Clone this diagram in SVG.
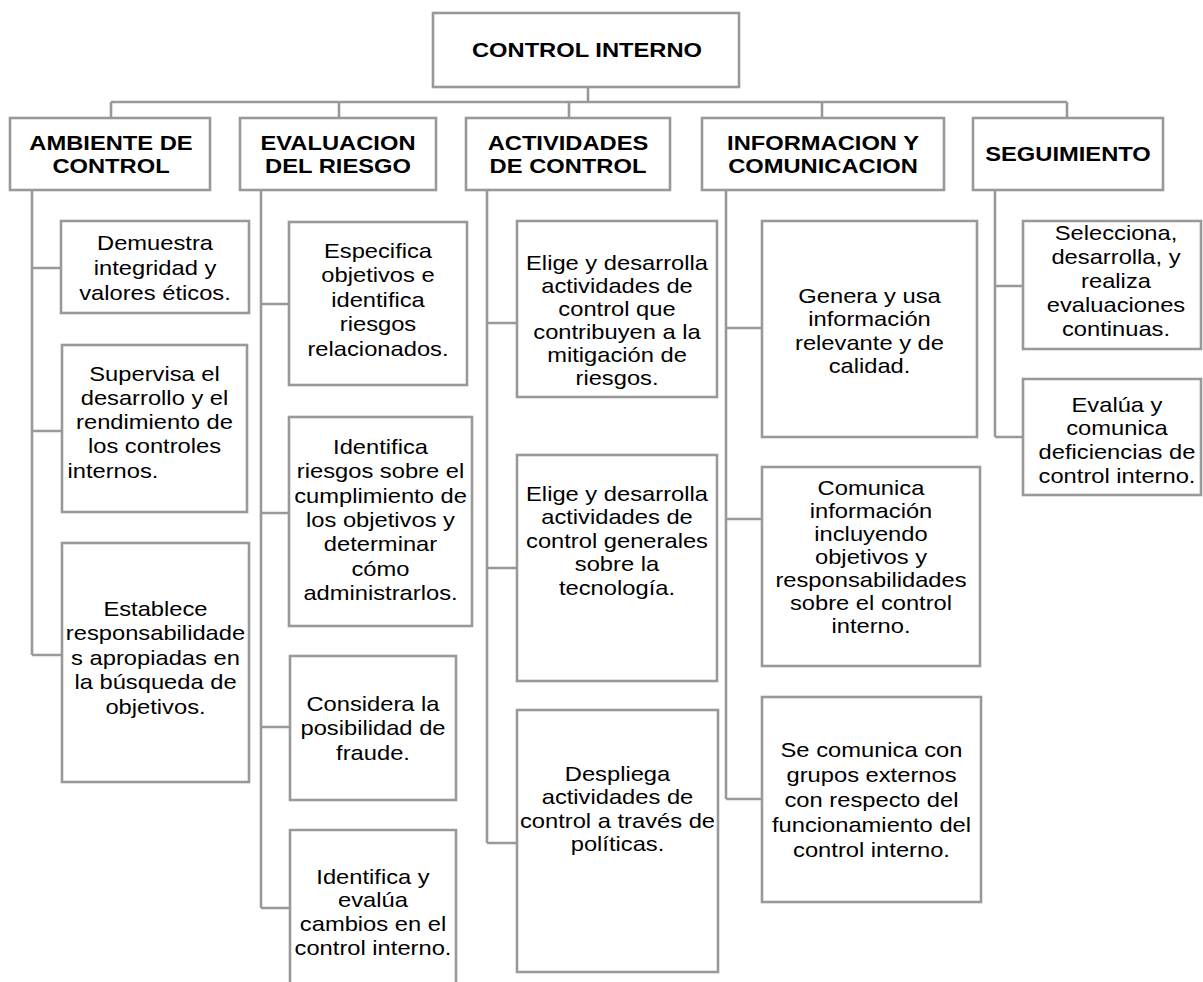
<svg xmlns="http://www.w3.org/2000/svg" width="1203" height="982" viewBox="0 0 1203 982">
<style>
.b{fill:#fff;stroke:#999;stroke-width:2.6}
.c{fill:none;stroke:#999;stroke-width:2.6}
text{font-family:"Liberation Sans",Arial,sans-serif;font-size:21px;fill:#000;text-anchor:middle}
.h{font-weight:bold}
</style>
<rect width="1203" height="982" fill="#fff"/>
<g id="connectors" class="c">
<path d="M588,87V102M111,102H1067M111,102V118M339,102V118M569,102V118M822,102V118M1067,102V118"/>
<path d="M32,190V655M32,268H61M32,431H62M32,655H62"/>
<path d="M261,190V908M261,304H289M261,513H289M261,727H290M261,908H290"/>
<path d="M487,190V843M487,323H517M487,568H517M487,843H517"/>
<path d="M726,190V799M726,328H762M726,519H762M726,799H762"/>
<path d="M995,190V437M995,286H1023M995,437H1023"/>
</g>
<g id="n0"><rect class="b" x="433" y="13" width="306" height="74"/><text class="h" transform="translate(587,0) scale(1.13,1)"><tspan x="0" y="57">CONTROL INTERNO</tspan></text></g>
<g id="h1"><rect class="b" x="10" y="118" width="200" height="72"/><text class="h" transform="translate(111,0) scale(1.13,1)"><tspan x="0" y="150">AMBIENTE DE</tspan><tspan x="0" y="173">CONTROL</tspan></text></g>
<g id="h2"><rect class="b" x="240" y="118" width="196" height="72"/><text class="h" transform="translate(338,0) scale(1.13,1)"><tspan x="0" y="150">EVALUACION</tspan><tspan x="0" y="173">DEL RIESGO</tspan></text></g>
<g id="h3"><rect class="b" x="466" y="118" width="204" height="72"/><text class="h" transform="translate(568,0) scale(1.13,1)"><tspan x="0" y="150">ACTIVIDADES</tspan><tspan x="0" y="173">DE CONTROL</tspan></text></g>
<g id="h4"><rect class="b" x="702" y="118" width="242" height="72"/><text class="h" transform="translate(823,0) scale(1.13,1)"><tspan x="0" y="150">INFORMACION Y</tspan><tspan x="0" y="173">COMUNICACION</tspan></text></g>
<g id="h5"><rect class="b" x="973" y="118" width="190" height="72"/><text class="h" transform="translate(1068,0) scale(1.13,1)"><tspan x="0" y="161">SEGUIMIENTO</tspan></text></g>
<g id="a1"><rect class="b" x="61" y="221" width="188" height="92"/><text transform="translate(155,0) scale(1.13,1)"><tspan x="0" y="250">Demuestra</tspan><tspan x="0" y="275">integridad y</tspan><tspan x="0" y="300">valores éticos.</tspan></text></g>
<g id="a2"><rect class="b" x="62" y="345" width="185" height="167"/><text transform="translate(154.5,0) scale(1.13,1)"><tspan x="0" y="381">Supervisa el</tspan><tspan x="0" y="405">desarrollo y el</tspan><tspan x="0" y="429">rendimiento de</tspan><tspan x="0" y="453">los controles</tspan><tspan x="-77" y="478" style="text-anchor:start">internos.</tspan></text></g>
<g id="a3"><rect class="b" x="62" y="543" width="187" height="239"/><text transform="translate(155.5,0) scale(1.13,1)"><tspan x="0" y="616">Establece</tspan><tspan x="0" y="640.5">responsabilidade</tspan><tspan x="0" y="665">s apropiadas en</tspan><tspan x="0" y="689.5">la búsqueda de</tspan><tspan x="0" y="714">objetivos.</tspan></text></g>
<g id="e1"><rect class="b" x="289" y="222" width="178" height="163"/><text transform="translate(378,0) scale(1.13,1)"><tspan x="0" y="258">Especifica</tspan><tspan x="0" y="282.5">objetivos e</tspan><tspan x="0" y="307">identifica</tspan><tspan x="0" y="331.5">riesgos</tspan><tspan x="0" y="356">relacionados.</tspan></text></g>
<g id="e2"><rect class="b" x="289" y="417" width="183" height="209"/><text transform="translate(380.5,0) scale(1.13,1)"><tspan x="0" y="454">Identifica</tspan><tspan x="0" y="478.5">riesgos sobre el</tspan><tspan x="0" y="503">cumplimiento de</tspan><tspan x="0" y="527">los objetivos y</tspan><tspan x="0" y="551.5">determinar</tspan><tspan x="0" y="576">cómo</tspan><tspan x="0" y="600">administrarlos.</tspan></text></g>
<g id="e3"><rect class="b" x="290" y="656" width="166" height="144"/><text transform="translate(373,0) scale(1.13,1)"><tspan x="0" y="711">Considera la</tspan><tspan x="0" y="735.5">posibilidad de</tspan><tspan x="0" y="760">fraude.</tspan></text></g>
<g id="e4"><path class="c" d="M290,984V830H456V984"/><text transform="translate(373,0) scale(1.13,1)"><tspan x="0" y="884">Identifica y</tspan><tspan x="0" y="907">evalúa</tspan><tspan x="0" y="931">cambios en el</tspan><tspan x="0" y="955">control interno.</tspan></text></g>
<g id="c1"><rect class="b" x="517" y="221" width="200" height="176"/><text transform="translate(617,0) scale(1.13,1)"><tspan x="0" y="270">Elige y desarrolla</tspan><tspan x="0" y="293">actividades de</tspan><tspan x="0" y="316">control que</tspan><tspan x="0" y="339">contribuyen a la</tspan><tspan x="0" y="362">mitigación de</tspan><tspan x="0" y="385">riesgos.</tspan></text></g>
<g id="c2"><rect class="b" x="517" y="455" width="200" height="226"/><text transform="translate(617,0) scale(1.13,1)"><tspan x="0" y="501">Elige y desarrolla</tspan><tspan x="0" y="524.5">actividades de</tspan><tspan x="0" y="548">control generales</tspan><tspan x="0" y="571.5">sobre la</tspan><tspan x="0" y="595">tecnología.</tspan></text></g>
<g id="c3"><rect class="b" x="517" y="710" width="201" height="262"/><text transform="translate(617.5,0) scale(1.13,1)"><tspan x="0" y="781">Despliega</tspan><tspan x="0" y="804.5">actividades de</tspan><tspan x="0" y="828">control a través de</tspan><tspan x="0" y="851.5">políticas.</tspan></text></g>
<g id="i1"><rect class="b" x="762" y="221" width="215" height="216"/><text transform="translate(869.5,0) scale(1.13,1)"><tspan x="0" y="303">Genera y usa</tspan><tspan x="0" y="326.5">información</tspan><tspan x="0" y="350">relevante y de</tspan><tspan x="0" y="373.5">calidad.</tspan></text></g>
<g id="i2"><rect class="b" x="762" y="467" width="218" height="199"/><text transform="translate(871,0) scale(1.13,1)"><tspan x="0" y="495">Comunica</tspan><tspan x="0" y="518">información</tspan><tspan x="0" y="541">incluyendo</tspan><tspan x="0" y="564">objetivos y</tspan><tspan x="0" y="587">responsabilidades</tspan><tspan x="0" y="610">sobre el control</tspan><tspan x="0" y="633">interno.</tspan></text></g>
<g id="i3"><rect class="b" x="762" y="697" width="219" height="205"/><text transform="translate(871.5,0) scale(1.13,1)"><tspan x="0" y="757">Se comunica con</tspan><tspan x="0" y="782">grupos externos</tspan><tspan x="0" y="807">con respecto del</tspan><tspan x="0" y="832">funcionamiento del</tspan><tspan x="0" y="857">control interno.</tspan></text></g>
<g id="s1"><rect class="b" x="1023" y="221" width="178" height="128"/><text transform="translate(1116,0) scale(1.13,1)"><tspan x="0" y="240">Selecciona,</tspan><tspan x="0" y="264">desarrolla, y</tspan><tspan x="0" y="288">realiza</tspan><tspan x="0" y="312">evaluaciones</tspan><tspan x="0" y="336">continuas.</tspan></text></g>
<g id="s2"><rect class="b" x="1023" y="379" width="178" height="116"/><text transform="translate(1117,0) scale(1.13,1)"><tspan x="0" y="412">Evalúa y</tspan><tspan x="0" y="435.5">comunica</tspan><tspan x="0" y="459">deficiencias de</tspan><tspan x="0" y="483">control interno.</tspan></text></g>
</svg>
